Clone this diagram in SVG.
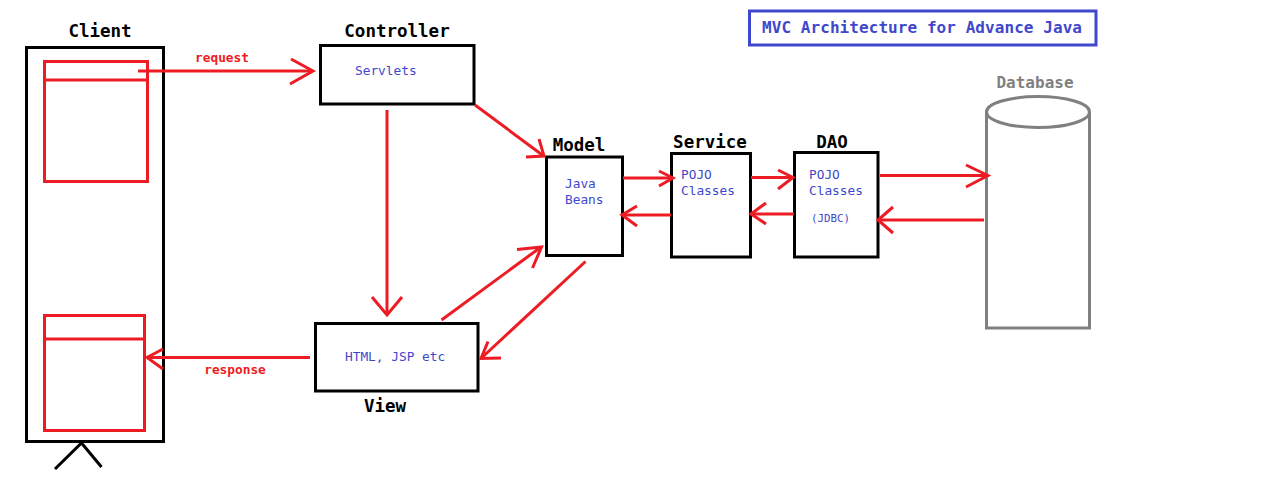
<svg xmlns="http://www.w3.org/2000/svg" width="1280" height="490" viewBox="0 0 1280 490">
<style>
.box{fill:none;stroke:#000;stroke-width:3}
.rbox{fill:none;stroke:#ed1c24;stroke-width:3}
.red{fill:none;stroke:#ed1c24;stroke-width:3;stroke-linecap:butt;stroke-linejoin:miter}
.h{font-family:"DejaVu Sans Mono","Liberation Mono",monospace;font-weight:bold;font-size:17.5px;fill:#000}
.b{font-family:"DejaVu Sans Mono","Liberation Mono",monospace;font-size:12.8px;fill:#3f48cc}
.s{font-family:"DejaVu Sans Mono","Liberation Mono",monospace;font-size:10.8px;fill:#3f48cc}
.rl{font-family:"DejaVu Sans Mono","Liberation Mono",monospace;font-weight:bold;font-size:12.8px;fill:#ed1c24}
</style>
<rect width="1280" height="490" fill="#fff"/>
<g id="title">
<rect x="749.5" y="11" width="346.5" height="34" fill="none" stroke="#3f48cc" stroke-width="3"/>
<text x="762" y="33" font-family="DejaVu Sans Mono, Liberation Mono, monospace" font-weight="bold" font-size="16" fill="#3f48cc" textLength="320">MVC Architecture for Advance Java</text>
</g>
<g id="client">
<rect class="box" x="26.5" y="47.5" width="137" height="394"/>
<rect class="rbox" x="44.5" y="61.5" width="103" height="120"/>
<line class="red" x1="44.5" y1="80" x2="147.5" y2="80"/>
<rect class="rbox" x="44.5" y="315.5" width="100" height="115"/>
<line class="red" x1="44.5" y1="339" x2="144.5" y2="339"/>
<polyline points="55,469 81.5,443 101.5,467" fill="none" stroke="#000" stroke-width="3"/>
<text class="h" x="100" y="37" text-anchor="middle">Client</text>
</g>
<g id="controller">
<rect class="box" x="320.5" y="45.5" width="153.5" height="58.5"/>
<text class="h" x="397" y="37" text-anchor="middle">Controller</text>
<text class="b" x="355" y="75">Servlets</text>
</g>
<g id="model">
<rect class="box" x="546.5" y="157" width="76" height="98.5"/>
<text class="h" x="579" y="151" text-anchor="middle">Model</text>
<text class="b" x="565" y="188">Java</text>
<text class="b" x="565" y="204">Beans</text>
</g>
<g id="service">
<rect class="box" x="671.5" y="153.5" width="79" height="103.5"/>
<text class="h" x="710" y="148" text-anchor="middle">Service</text>
<text class="b" x="681" y="179">POJO</text>
<text class="b" x="681" y="195">Classes</text>
</g>
<g id="dao">
<rect class="box" x="794.5" y="152.5" width="83.5" height="104.5"/>
<text class="h" x="832" y="148" text-anchor="middle">DAO</text>
<text class="b" x="809" y="179">POJO</text>
<text class="b" x="809" y="195">Classes</text>
<text class="s" x="811" y="221.5">(JDBC)</text>
</g>
<g id="database">
<path d="M986.5,112 V328 H1089.5 V112" fill="none" stroke="#808080" stroke-width="3"/>
<ellipse cx="1038" cy="112" rx="51.5" ry="15.5" fill="#fff" stroke="#808080" stroke-width="3"/>
<text x="1035" y="87.5" text-anchor="middle" font-family="DejaVu Sans Mono, Liberation Mono, monospace" font-weight="bold" font-size="16" fill="#808080">Database</text>
</g>
<g id="view">
<rect class="box" x="315.5" y="323.5" width="162.5" height="67.5"/>
<text class="h" x="385" y="411.5" text-anchor="middle">View</text>
<text class="b" x="345" y="360.5">HTML, JSP etc</text>
</g>
<g id="connectors">
<line class="red" x1="138" y1="71" x2="312" y2="71"/>
<polyline class="red" points="291,59 313,71 290,84"/>
<text class="rl" x="222" y="62" text-anchor="middle">request</text>
<line class="red" x1="310" y1="357.5" x2="148" y2="357.5"/>
<polyline class="red" points="163,349 147,357.5 163,369"/>
<text class="rl" x="235" y="374" text-anchor="middle">response</text>
<line class="red" x1="387" y1="110" x2="387" y2="314"/>
<polyline class="red" points="372,297 387,315 402,297"/>
<line class="red" x1="475" y1="105" x2="543" y2="155.5"/>
<polyline class="red" points="526,157 544,156 539,139"/>
<line class="red" x1="441.5" y1="320" x2="541" y2="247"/>
<polyline class="red" points="517,249.5 541.5,247 532.5,268"/>
<line class="red" x1="585.5" y1="261.5" x2="482" y2="357.5"/>
<polyline class="red" points="501,358 481,358.5 488,341.5"/>
<line class="red" x1="623" y1="178" x2="672" y2="178"/>
<polyline class="red" points="659,171 673,178 659,186"/>
<line class="red" x1="671" y1="215" x2="623" y2="215"/>
<polyline class="red" points="637,206 622,215 637,226"/>
<line class="red" x1="751" y1="177.5" x2="792" y2="177.5"/>
<polyline class="red" points="778,170 793,177.5 778,189"/>
<line class="red" x1="794" y1="214" x2="752" y2="214"/>
<polyline class="red" points="766,203 751,214 766,224"/>
<line class="red" x1="880" y1="175.5" x2="987" y2="175.5"/>
<polyline class="red" points="966,165 988,175.5 966,187"/>
<line class="red" x1="984" y1="220" x2="879" y2="220"/>
<polyline class="red" points="893,207 878,220 893,233"/>
</g>
</svg>
